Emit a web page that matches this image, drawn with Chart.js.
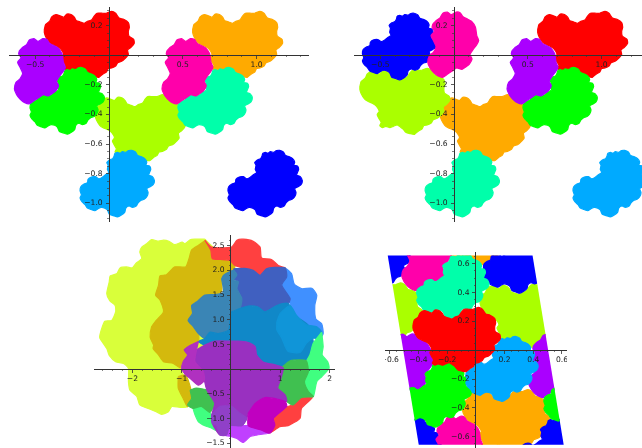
<!DOCTYPE html>
<html>
<head>
<meta charset="utf-8">
<style>
  html, body { margin:0; padding:0; width:642px; height:448px; overflow:hidden; background:#fff; }
  canvas { position:absolute; display:block; }
</style>
<script src="https://cdn.jsdelivr.net/npm/chart.js@4/dist/chart.umd.js"></script>
</head>
<body>
<canvas id="plot-a" width="300" height="215" style="left:9px;top:7px"></canvas>
<canvas id="plot-b" width="300" height="215" style="left:354px;top:7px"></canvas>
<canvas id="plot-c" width="241" height="214" style="left:94px;top:235px"></canvas>
<canvas id="plot-d" width="182" height="196" style="left:385px;top:252px"></canvas>
<script>
// tile outlines, in axis units
const bigTile = [[.567,.175],[.576,.209],[.603,.230],[.617,.259],[.646,.275],[.675,.266],[.698,.257],[.720,.279],[.748,.275],[.770,.257],[.784,.234],[.811,.225],[.838,.216],[.860,.230],[.887,.239],[.906,.266],[.924,.284],[.955,.284],[.987,.284],[1.023,.297],[1.050,.284],[1.073,.252],[1.104,.243],[1.136,.221],[1.143,.189],[1.136,.162],[1.140,.130],[1.172,.108],[1.176,.081],[1.154,.054],[1.131,.036],[1.136,.004],[1.113,-.023],[1.091,-.041],[1.064,-.050],[1.050,-.072],[1.023,-.086],[1.000,-.090],[.987,-.113],[.964,-.126],[.937,-.149],[.906,-.144],[.878,-.135],[.860,-.113],[.842,-.100],[.820,-.086],[.793,-.095],[.770,-.104],[.743,-.095],[.720,-.104],[.702,-.090],[.711,-.068],[.698,-.045],[.684,-.016],[.698,.007],[.680,.040],[.657,.058],[.621,.074],[.598,.090],[.576,.126],[.567,.153]];
const midTile = [[1.041,-.662],[1.059,-.656],[1.077,-.662],[1.093,-.651],[1.116,-.656],[1.134,-.644],[1.156,-.642],[1.181,-.653],[1.195,-.676],[1.222,-.685],[1.244,-.698],[1.258,-.721],[1.253,-.743],[1.276,-.748],[1.285,-.770],[1.276,-.793],[1.271,-.809],[1.296,-.820],[1.310,-.847],[1.301,-.874],[1.280,-.888],[1.258,-.901],[1.267,-.928],[1.258,-.955],[1.240,-.973],[1.217,-.980],[1.199,-.996],[1.186,-1.018],[1.161,-1.027],[1.138,-1.018],[1.116,-1.032],[1.109,-1.059],[1.086,-1.079],[1.059,-1.092],[1.032,-1.083],[1.005,-1.074],[.991,-1.045],[.973,-1.032],[.951,-1.027],[.928,-1.036],[.906,-1.050],[.879,-1.041],[.856,-1.032],[.840,-1.009],[.820,-.991],[.806,-.964],[.815,-.942],[.806,-.915],[.811,-.888],[.833,-.870],[.856,-.861],[.860,-.838],[.883,-.822],[.910,-.820],[.933,-.834],[.955,-.825],[.978,-.806],[1.000,-.793],[.991,-.770],[.996,-.743],[.987,-.725],[1.005,-.707],[1.027,-.698],[1.037,-.680]];
const smallTile = [[-.607,.031],[-.585,.054],[-.558,.072],[-.540,.103],[-.508,.112],[-.481,.094],[-.449,.112],[-.420,.106],[-.404,.082],[-.375,.066],[-.345,.050],[-.318,.010],[-.309,-.047],[-.296,-.081],[-.309,-.108],[-.332,-.138],[-.355,-.176],[-.341,-.205],[-.359,-.239],[-.382,-.257],[-.409,-.275],[-.445,-.266],[-.472,-.284],[-.506,-.306],[-.540,-.329],[-.574,-.318],[-.603,-.295],[-.626,-.266],[-.641,-.228],[-.630,-.183],[-.603,-.160],[-.585,-.122],[-.603,-.081],[-.619,-.047],[-.596,-.018],[-.612,.009]];

const RED='#ff0000', ORANGE='#ffaa00', LIME='#aaff00', GREEN='#00ff00', SPRING='#00ffaa', SKY='#00aaff', BLUE='#0000ff', PURPLE='#aa00ff', PINK='#ff00aa';

// [outline, colour, shift x, shift y], later rows lie on top
const tilesA = [
  [bigTile, ORANGE, 0, 0], [bigTile, RED, -1.005, 0], [bigTile, LIME, -.661, -.563],
  [midTile, BLUE, 0, 0], [midTile, GREEN, -1.341, .559], [midTile, SPRING, -.339, .559], [midTile, SKY, -1.002, 0],
  [smallTile, PURPLE, 0, 0], [smallTile, PINK, 1.0, 0],
];
const tilesB = [
  [bigTile, RED, 0, 0], [bigTile, ORANGE, -.661, -.563], [bigTile, LIME, -1.205, -.385],
  [midTile, SKY, 0, 0], [midTile, GREEN, -.339, .559], [midTile, SPRING, -1.002, 0], [midTile, BLUE, -1.427, .926],
  [smallTile, PINK, .463, .18], [smallTile, PURPLE, 1.0, 0],
];
const tilesD = [
  [bigTile, LIME, -.537, .17], [bigTile, LIME, -1.546, .17], [bigTile, ORANGE, -.66, -.57], [bigTile, ORANGE, -.876, .742],
  [midTile, BLUE, -.753, 1.487], [midTile, BLUE, -1.762, 1.487], [midTile, BLUE, -.537, .175], [midTile, BLUE, -1.546, .175],
  [smallTile, PINK, .125, .742], [smallTile, PINK, .341, -.57],
  [smallTile, PURPLE, 0, 0], [smallTile, PURPLE, 1.009, 0],
  [midTile, SPRING, -1.218, 1.309], [midTile, GREEN, -1.341, .559], [midTile, GREEN, -.332, .559], [midTile, SKY, -.876, .737],
  [bigTile, RED, -1.005, 0],
];
const cutD = [[-.614,.656],[.395,.656],[.612,-.656],[-.398,-.656]];

// overlap regions of the lower left plot
const yellowPart = [[-.53,2.63],[-.73,2.63],[-.83,2.62],[-.93,2.54],[-.99,2.57],[-1.14,2.52],[-1.26,2.59],[-1.37,2.61],[-1.47,2.59],[-1.61,2.62],[-1.71,2.54],[-1.81,2.47],[-1.85,2.37],[-1.81,2.24],[-1.93,2.14],[-2.00,2.05],[-2.12,2.07],[-2.25,2.05],[-2.32,1.93],[-2.45,1.89],[-2.47,1.77],[-2.52,1.53],[-2.46,1.39],[-2.35,1.29],[-2.34,1.16],[-2.42,.99],[-2.56,.97],[-2.61,.86],[-2.66,.69],[-2.66,.63],[-2.52,.42],[-2.47,.28],[-2.34,.155],[-2.18,.12],[-2.08,.02],[-2.08,-.25],[-2.05,-.42],[-1.91,-.55],[-1.85,-.72],[-1.68,-.79],[-1.51,-.86],[-1.41,-.91],[-1.27,-.86],[-1.20,-.75],[-1.03,-.77],[-.87,-.75],[-.80,-.49],[-1.0,0],[-.5,.5],[-.16,2.2]];
const goldPart = [[-.53,2.60],[-.66,2.51],[-.80,2.41],[-.85,2.24],[-.92,2.07],[-1.14,2.07],[-1.31,1.91],[-1.44,1.89],[-1.47,1.70],[-1.53,1.50],[-1.44,1.40],[-1.37,1.16],[-1.54,.96],[-1.61,.86],[-1.64,.65],[-1.57,.49],[-1.58,.42],[-1.47,.29],[-1.37,.155],[-1.17,.12],[-1.03,.03],[-.99,.12],[-.97,.155],[-.88,.29],[-.95,.39],[-.83,.48],[-.66,.56],[-.66,.72],[-.76,.86],[-.87,.99],[-.78,1.13],[-.80,1.29],[-.70,1.36],[-.53,1.50],[-.39,1.48],[-.19,1.58],[-.19,1.83],[-.15,1.90],[.05,2.0],[.08,2.10],[-.02,2.20],[-.22,2.22],[-.38,2.24],[-.41,2.41]];
const goldSmall = [[-1.07,-.15],[-.93,-.115],[-.87,-.215],[-.80,-.49],[-.88,-.755],[-.97,-.59],[-1.07,-.38]];
const redTop = [[-.53,2.61],[-.39,2.47],[.01,2.47],[.12,2.61],[.25,2.63],[.45,2.59],[.59,2.47],[.62,2.25],[.82,2.22],[.96,2.10],[1.10,2.05],[.89,2.06],[.72,2.03],[.59,1.90],[.45,2.00],[.28,2.04],[.08,2.10],[-.02,2.20],[-.22,2.22],[-.38,2.24],[-.41,2.41]];
const redLow = [[.86,-.99],[1.06,-.79],[1.26,-.71],[1.43,-.57],[1.65,-.57],[1.43,-.79],[1.40,-.99],[1.16,-1.14],[.99,-1.16],[.82,-1.27],[.89,-1.13]];
const blueEdge = [[1.10,2.05],[1.23,1.93],[1.28,1.73],[1.43,1.63],[1.64,1.64],[1.74,1.50],[1.70,1.29],[1.72,1.02],[1.84,.92],[1.87,.72],[1.80,.62],[1.64,.69],[1.57,.89],[1.30,1.09],[1.20,1.33],[1.03,1.70],[1.13,1.87]];
const indigoPart = [[.05,2.03],[.28,2.04],[.45,2.0],[.59,1.90],[.72,2.03],[.89,2.06],[1.10,2.05],[1.13,1.87],[1.03,1.70],[1.20,1.43],[1.16,1.33],[.93,1.29],[.69,1.16],[.55,1.26],[.35,1.28],[.18,1.23],[.22,1.43],[.12,1.63],[.15,1.77],[.05,1.83],[.12,1.93]];
const tealPart = [[-.19,1.83],[-.15,1.90],[.05,2.0],[.12,1.91],[.05,1.80],[.15,1.77],[.12,1.63],[.22,1.43],[.18,1.23],[.01,1.16],[-.02,.99],[-.05,.79],[-.26,.72],[-.43,.75],[-.53,.62],[-.66,.72],[-.76,.86],[-.87,.99],[-.78,1.13],[-.80,1.29],[-.70,1.36],[-.53,1.50],[-.32,1.51],[-.155,1.56]];
const bluePart = [[.01,1.16],[.18,1.23],[.35,1.28],[.55,1.26],[.69,1.16],[.93,1.29],[1.16,1.33],[1.30,1.09],[1.57,.89],[1.64,.69],[1.67,.53],[1.60,.29],[1.53,.19],[1.26,.19],[1.06,.03],[.86,.10],[.66,.14],[.52,.29],[.49,.46],[.32,.55],[.15,.57],[.01,.57],[-.32,.57],[-.53,.49],[-.66,.56],[-.53,.62],[-.43,.75],[-.26,.72],[-.05,.79],[-.02,.99]];
const blueLight = [[.93,.96],[1.0,1.13],[1.20,1.29],[1.33,1.09],[1.53,.90],[1.74,.86],[1.84,.75],[1.80,.62],[1.67,.63],[1.53,.53],[1.40,.34],[1.16,.36],[1.10,.46],[1.03,.63],[.93,.80]];
const greenRight = [[1.84,.75],[1.87,.46],[1.85,.29],[1.96,.155],[1.99,.02],[1.84,-.15],[1.74,-.25],[1.67,-.55],[1.57,-.45],[1.49,-.25],[1.57,-.05],[1.53,.155],[1.60,.29],[1.67,.53]];
const greenLow = [[-.77,-.79],[-.60,-.75],[-.43,-.87],[-.36,-.99],[-.26,-1.13],[-.26,-1.26],[-.39,-1.19],[-.53,-1.14],[-.66,-1.06],[-.73,-.92]];
const darkGreenRight = [[1.0,.01],[1.20,.17],[1.40,.19],[1.53,.17],[1.57,-.05],[1.49,-.25],[1.57,-.45],[1.67,-.55],[1.43,-.57],[1.26,-.72],[1.13,-.65],[1.10,-.52],[.95,-.38],[1.0,-.22]];
const darkGreenLow = [[-.83,-.42],[-.70,-.38],[-.49,-.42],[-.43,-.52],[-.33,-.69],[-.43,-.87],[-.60,-.75],[-.77,-.79],[-.88,-.72],[-.80,-.59]];
const purplePart = [[-.70,.39],[-.53,.49],[-.32,.57],[.01,.57],[.15,.57],[.32,.55],[.49,.46],[.52,.29],[.66,.14],[.86,.10],[1.06,.03],[1.0,-.22],[.95,-.38],[1.10,-.52],[1.13,-.65],[.93,-.60],[.69,-.57],[.49,-.69],[.35,-.89],[.32,-.99],[.22,-1.14],[-.02,-1.14],[-.22,-1.33],[-.38,-1.09],[-.39,-.92],[-.33,-.69],[-.43,-.52],[-.49,-.42],[-.54,-.22],[-.56,-.05],[-.73,.155]];
const plumPart = [[-.66,.56],[-.83,.48],[-.95,.39],[-.88,.29],[-.97,.155],[-1.0,.01],[-.92,-.11],[-.83,-.18],[-.66,-.32],[-.54,-.22],[-.56,-.05],[-.73,.155],[-.70,.39]];
const magentaPart = [[.35,-.89],[.49,-.69],[.69,-.57],[.93,-.60],[1.10,-.65],[1.13,-.75],[.86,-.99],[.89,-1.13],[.79,-1.29],[.62,-1.23],[.35,-1.14]];
const violetPart = [[-.02,-1.13],[.22,-1.14],[.35,-1.14],[.62,-1.23],[.76,-1.29],[.52,-1.33],[.39,-1.36],[.25,-1.48],[.12,-1.40],[.01,-1.36],[-.12,-1.33]];
const midPurple = [[-.39,-.92],[-.22,-.75],[.01,-.75],[.18,-.89],[.32,-.99],[.22,-1.14],[-.02,-1.14],[-.09,-1.33],[-.22,-1.33],[-.29,-1.14],[-.38,-1.09]];

const tilesC = [
  [yellowPart,'#d9ff3a',0,0], [goldPart,'#d4b90d',0,0], [goldSmall,'#d4b90d',0,0], [redTop,'#ff4040',0,0], [redLow,'#ff4040',0,0],
  [blueEdge,'#4090ff',0,0], [indigoPart,'#4060c0',0,0], [tealPart,'#3a85b5',0,0], [bluePart,'#1088c8',0,0], [blueLight,'#1095d8',0,0],
  [greenRight,'#40ff80',0,0], [greenLow,'#40ff80',0,0], [darkGreenRight,'#40c050',0,0], [darkGreenLow,'#40c050',0,0],
  [purplePart,'#9930c0',0,0], [plumPart,'#b030c0',0,0], [violetPart,'#c040ff',0,0], [magentaPart,'#c000c0',0,0], [midPurple,'#9040c8',0,0],
];

// tick positions
const xMajorA = [-.5,0,.5,1], xMinorA = [-.6,-.4,-.3,-.2,-.1,.1,.2,.3,.4,.6,.7,.8,.9,1.1,1.2,1.3];
const yMajorA = [.2,0,-.2,-.4,-.6,-.8,-1], yMinorA = [.3,.25,.15,.1,.05,-.05,-.1,-.15,-.25,-.3,-.35,-.45,-.5,-.55,-.65,-.7,-.75,-.85,-.9,-.95,-1.05,-1.1];
const xMajorC = [-2,-1,0,1,2], xMinorC = [-2.6,-2.4,-2.2,-1.8,-1.6,-1.4,-1.2,-.8,-.6,-.4,-.2,.2,.4,.6,.8,1.2,1.4,1.6,1.8];
const yMajorC = [2.5,2,1.5,1,.5,0,-.5,-1,-1.5], yMinorC = [2.6,2.4,2.3,2.2,2.1,1.9,1.8,1.7,1.6,1.4,1.3,1.2,1.1,.9,.8,.7,.6,.4,.3,.2,.1,-.1,-.2,-.3,-.4,-.6,-.7,-.8,-.9,-1.1,-1.2,-1.3,-1.4];
const xMajorD = [-.6,-.4,-.2,0,.2,.4,.6], xMinorD = [-.55,-.5,-.45,-.35,-.3,-.25,-.15,-.1,-.05,.05,.1,.15,.25,.3,.35,.45,.5,.55];
const yMajorD = [.6,.4,.2,0,-.2,-.4,-.6], yMinorD = [.65,.55,.5,.45,.35,.3,.25,.15,.1,.05,-.05,-.1,-.15,-.25,-.3,-.35,-.45,-.5,-.55,-.65];

const INK = '#333';

function scaleOpts(cross, values, range, fmt) {
  return {
    type: 'linear', position: cross, min: range[0], max: range[1],
    border: { color: INK, width: 1, z: 1 },
    grid: { display: true, drawOnChartArea: false, drawTicks: true, tickLength: 3, tickColor: INK, tickWidth: .8, z: 1 },
    ticks: { autoSkip: false, maxRotation: 0, minRotation: 0, padding: 2, color: '#222', z: 1,
      font: { family: 'DejaVu Sans', size: 7.6 }, callback: fmt },
    afterBuildTicks: s => { s.ticks = values.map(value => ({ value })); },
    afterFit: s => { s.paddingLeft = s.paddingRight = s.paddingTop = s.paddingBottom = 0; },
  };
}

function minorOpts(axis, cross, values, range) {
  return {
    type: 'linear', axis, position: cross, min: range[0], max: range[1],
    border: { display: false },
    grid: { display: true, drawOnChartArea: false, drawTicks: true, tickLength: 2, tickColor: INK, tickWidth: .6, z: 1 },
    ticks: { display: false },
    afterBuildTicks: s => { s.ticks = values.map(value => ({ value })); },
    afterFit: s => { s.paddingLeft = s.paddingRight = s.paddingTop = s.paddingBottom = 0; },
  };
}

const minusText = (v, digits) => v === 0 ? '' : v.toFixed(digits).replace('-', '\u2212');
const xLabel = v => minusText(v, 1);
const xLabelWhole = v => minusText(v, 0);
// the y labels hang from the axis line itself, the trailing blanks move them off it
const yLabel = v => v === 0 ? '' : minusText(v, 1) + '\u00a0\u00a0\u2009';

function tileDataset([outline, colour, dx, dy]) {
  const data = outline.concat([outline[0]]).map(p => ({ x: p[0] + dx, y: p[1] + dy }));
  return { data, showLine: true, fill: 'shape', tension: .2, capBezierPoints: false,
    backgroundColor: colour, borderColor: colour, borderWidth: 1.2, pointRadius: 0 };
}

// keeps the torus plot inside its parallelogram
const cutPlugin = {
  id: 'cut',
  beforeDatasetsDraw(chart, args, opts) {
    if (!opts.corners) return;
    const { ctx, scales } = chart;
    ctx.save();
    ctx.beginPath();
    opts.corners.forEach((c, i) => {
      const px = scales.x.getPixelForValue(c[0]), py = scales.y.getPixelForValue(c[1]);
      i ? ctx.lineTo(px, py) : ctx.moveTo(px, py);
    });
    ctx.closePath();
    ctx.clip();
  },
  afterDatasetsDraw(chart, args, opts) {
    if (opts.corners) chart.ctx.restore();
  },
};

function drawPlot(id, tiles, xRange, yRange, xMajor, xMinor, yMajor, yMinor, xFmt, corners) {
  new Chart(document.getElementById(id), {
    type: 'scatter',
    // Chart.js paints the first dataset last
    data: { datasets: tiles.map(tileDataset).reverse() },
    plugins: [cutPlugin],
    options: {
      responsive: false,
      animation: false,
      layout: { padding: 0 },
      plugins: { legend: { display: false }, tooltip: { enabled: false }, cut: { corners } },
      scales: {
        x: scaleOpts({ y: 0 }, xMajor, xRange, xFmt),
        y: scaleOpts({ x: 0 }, yMajor, yRange, yLabel),
        xm: minorOpts('x', { y: 0 }, xMinor, xRange),
        ym: minorOpts('y', { x: 0 }, yMinor, yRange),
      },
    },
  });
}

drawPlot('plot-a', tilesA, [-.6775,1.355], [-1.126,.326], xMajorA, xMinorA, yMajorA, yMinorA, xLabel);
drawPlot('plot-b', tilesB, [-.678,1.355], [-1.126,.326], xMajorA, xMinorA, yMajorA, yMinorA, xLabel);
drawPlot('plot-c', tilesC, [-2.779,2.11], [-1.611,2.715], xMajorC, xMinorC, yMajorC, yMinorC, xLabelWhole);
drawPlot('plot-d', tilesD, [-.633,.635], [-.678,.681], xMajorD, xMinorD, yMajorD, yMinorD, xLabel, cutD);
</script>
</body>
</html>
